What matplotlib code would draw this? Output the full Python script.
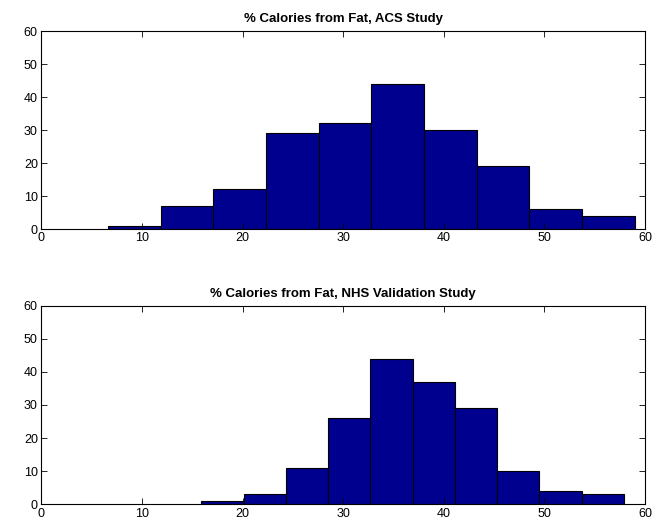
import numpy as np
import matplotlib
matplotlib.use("Agg")
import matplotlib.pyplot as plt

plt.rcParams['font.family'] = ['Liberation Sans', 'DejaVu Sans']

# Top histogram: ACS study
acs_edges = [6.64, 11.87, 17.1, 22.35, 27.6, 32.8, 38.05, 43.3, 48.5, 53.75, 59.0]
acs_counts = [1, 7, 12, 29, 32, 44, 30, 19, 6, 4]
acs_title = "% Calories from Fat, ACS Study"

# Bottom histogram: NHS validation study
nhs_edges = [15.9, 20.1, 24.3, 28.5, 32.7, 36.9, 41.1, 45.3, 49.5, 53.7, 57.9]
nhs_counts = [1, 3, 11, 26, 44, 37, 29, 10, 4, 3]
nhs_title = "% Calories from Fat, NHS Validation Study"

xticks = [0, 10, 20, 30, 40, 50, 60]
yticks = [0, 10, 20, 30, 40, 50, 60]

fig = plt.figure(figsize=(6.57, 5.22), dpi=100)
ax1 = fig.add_axes([0.0629, 0.5613, 0.9188, 0.3793])
ax2 = fig.add_axes([0.0629, 0.0339, 0.9188, 0.3805])

def draw(ax, edges, counts, title):
    edges = np.array(edges)
    ax.bar(edges[:-1], counts, width=np.diff(edges), align='edge',
           color='#00008F', edgecolor='black', linewidth=0.8)
    ax.set_xlim(0, 60)
    ax.set_ylim(0, 60)
    ax.set_xticks(xticks)
    ax.set_yticks(yticks)
    ax.tick_params(direction='in', top=True, right=True, length=4,
                   labelsize=9, width=0.6, pad=2.5)
    for s in ax.spines.values():
        s.set_linewidth(0.8)
    ax.set_title(title, fontsize=9.5, fontweight='bold', pad=6.5)

draw(ax1, acs_edges, acs_counts, acs_title)
draw(ax2, nhs_edges, nhs_counts, nhs_title)

fig.savefig("out.png", dpi=100)
